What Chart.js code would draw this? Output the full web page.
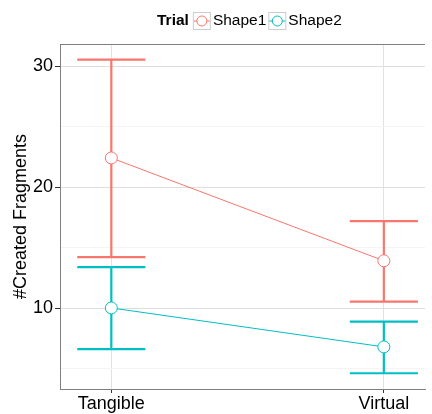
<!DOCTYPE html>
<html><head><meta charset="utf-8">
<style>html,body{margin:0;padding:0;background:#fff}#wrap{width:432px;height:414px;position:relative}</style>
<script src="https://cdn.jsdelivr.net/npm/chart.js@4.4.1/dist/chart.umd.min.js"></script>
</head><body><div id="wrap"><canvas id="c" width="432" height="414"></canvas></div>
<script>
const categories = ['Tangible', 'Virtual'];
const seriesNames = ['Shape1', 'Shape2'];
const legendTitle = 'Trial';
const yTitle = '#Created Fragments';
const shape1Mean  = [22.42, 13.92];
const shape1Upper = [30.55, 17.2];
const shape1Lower = [14.22, 10.55];
const shape2Mean  = [10.02, 6.8];
const shape2Upper = [13.39, 8.89];
const shape2Lower = [6.61, 4.62];
const yTickValues = [5, 10, 15, 20, 25, 30];
const yLabelValues = [10, 20, 30];

const colors = ['#F8766D', '#00BFC4'];
const FONT = "'Liberation Sans', Arial, Helvetica, sans-serif";
const means = [shape1Mean, shape2Mean];
const bars = [[shape1Lower, shape1Upper], [shape2Lower, shape2Upper]];
const capHalf = 0.125;

const errorBars = {
  id: 'errorBars',
  beforeDatasetsDraw(chart) {
    const {ctx, scales: {x, y}} = chart;
    ctx.save();
    ctx.lineWidth = 2.2;
    ctx.lineCap = 'butt';
    bars.forEach(([lo, hi], i) => {
      ctx.strokeStyle = colors[i];
      categories.forEach((c, k) => {
        const px = x.getPixelForValue(k + 1);
        const xl = x.getPixelForValue(k + 1 - capHalf), xr = x.getPixelForValue(k + 1 + capHalf);
        const yl = y.getPixelForValue(lo[k]), yh = y.getPixelForValue(hi[k]);
        ctx.beginPath();
        ctx.moveTo(px, yl); ctx.lineTo(px, yh);
        ctx.moveTo(xl, yl); ctx.lineTo(xr, yl);
        ctx.moveTo(xl, yh); ctx.lineTo(xr, yh);
        ctx.stroke();
      });
    });
    ctx.restore();
  },
  afterDraw(chart) {
    const {ctx, chartArea: a} = chart;
    ctx.save();
    // top panel border
    ctx.strokeStyle = '#7F7F7F';
    ctx.lineWidth = 1;
    ctx.beginPath(); ctx.moveTo(a.left, a.top + 0.5); ctx.lineTo(a.right, a.top + 0.5); ctx.stroke();
    // legend
    ctx.textBaseline = 'middle';
    ctx.fillStyle = '#000';
    ctx.font = 'bold 15.5px ' + FONT;
    let x = 157; const cy = 21;
    ctx.fillText(legendTitle, x, cy);
    x += ctx.measureText(legendTitle).width + 4;
    ctx.font = '15.5px ' + FONT;
    seriesNames.forEach((n, i) => {
      const bx = x, by = 12.5, bs = 17;
      ctx.strokeStyle = '#CCCCCC'; ctx.lineWidth = 1;
      ctx.strokeRect(bx + 0.5, by, bs, bs);
      ctx.strokeStyle = colors[i];
      ctx.beginPath(); ctx.moveTo(bx + 1, by + bs / 2); ctx.lineTo(bx + bs, by + bs / 2); ctx.stroke();
      ctx.beginPath(); ctx.arc(bx + bs / 2 + 0.5, by + bs / 2, 5, 0, Math.PI * 2);
      ctx.fillStyle = '#fff'; ctx.fill(); ctx.stroke();
      ctx.fillStyle = '#000';
      x += bs + 3;
      ctx.fillText(n, x, cy);
      x += ctx.measureText(n).width + 2;
    });
    ctx.restore();
  }
};

const datasets = seriesNames.map((n, i) => ({
  label: n,
  data: means[i].map((v, k) => ({x: k + 1, y: v})),
  borderColor: colors[i],
  borderWidth: 1,
  pointRadius: 6,
  pointHoverRadius: 6,
  pointBackgroundColor: '#fff',
  pointBorderColor: colors[i],
  pointBorderWidth: 1,
  showLine: true,
  fill: false,
  tension: 0
}));

new Chart(document.getElementById('c'), {
  type: 'line',
  data: {datasets},
  plugins: [errorBars],
  options: {
    responsive: false,
    animation: false,
    events: [],
    layout: {padding: {top: 44, right: 0, left: 0, bottom: 0}},
    plugins: {legend: {display: false}, tooltip: {enabled: false}},
    scales: {
      x: {
        type: 'linear', min: 0.8117, max: 2.151,
        afterBuildTicks: s => { s.ticks = categories.map((c, k) => ({value: k + 1})); },
        afterFit: s => { s.height = 25; },
        ticks: {callback: (v, idx) => categories[idx], color: '#000', font: {size: 18, family: FONT}, padding: 0, maxRotation: 0, autoSkip: false},
        grid: {color: '#E2E2E2', lineWidth: 1, tickLength: 4, tickColor: '#333333'},
        border: {display: true, color: '#7F7F7F', width: 1}
      },
      y: {
        min: 3.32, max: 31.84,
        afterBuildTicks: s => { s.ticks = yTickValues.map(v => ({value: v})); },
        afterFit: s => { s.width = 60; },
        ticks: {callback: v => yLabelValues.includes(v) ? String(v) : '', color: '#000', font: {size: 18, family: FONT}, padding: 2},
        grid: {
          color: c => (c.tick && yLabelValues.includes(c.tick.value)) ? '#DEDEDE' : '#F4F4F4',
          tickColor: c => (c.tick && yLabelValues.includes(c.tick.value)) ? '#333333' : 'rgba(0,0,0,0)',
          tickLength: 5, lineWidth: 1
        },
        border: {display: true, color: '#7F7F7F', width: 1},
        title: {display: true, text: yTitle, color: '#000', font: {size: 18, family: FONT}, padding: {top: 10, bottom: 0}}
      }
    }
  }
});
</script>
</body></html>
